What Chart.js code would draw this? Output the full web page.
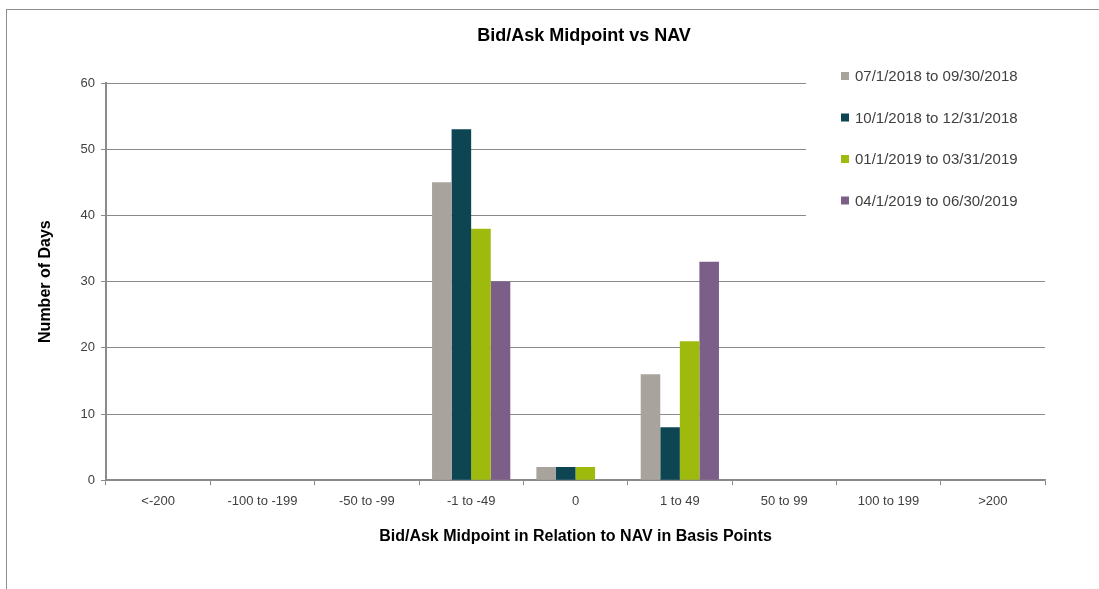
<!DOCTYPE html>
<html>
<head>
<meta charset="utf-8">
<script src="https://cdn.jsdelivr.net/npm/chart.js@4"></script>
<style>
  body { margin: 0; background: #fff; }
  #wrap { position: relative; width: 1099px; height: 589px; overflow: hidden; }
  #frame { position: absolute; left: 6px; top: 9px; width: 1200px; height: 700px; border: 1px solid #8c8c8c; pointer-events: none; }
</style>
</head>
<body>
<div id="wrap">
  <canvas id="navChart" width="1099" height="589"></canvas>
  <div id="frame"></div>
</div>
<script>
/* Bid/Ask midpoint vs NAV - grouped bar chart */

const TITLE = 'Bid/Ask Midpoint vs NAV';
const CATEGORIES = ['<-200', '-100 to -199', '-50 to -99', '-1 to -49', '0', '1 to 49', '50 to 99', '100 to 199', '>200'];
const SERIES_LABELS = ['07/1/2018 to 09/30/2018', '10/1/2018 to 12/31/2018', '01/1/2019 to 03/31/2019', '04/1/2019 to 06/30/2019'];
const Q3_2018 = [0, 0, 0, 45, 2, 16, 0, 0, 0];
const Q4_2018 = [0, 0, 0, 53, 2, 8, 0, 0, 0];
const Q1_2019 = [0, 0, 0, 38, 2, 21, 0, 0, 0];
const Q2_2019 = [0, 0, 0, 30, 0, 33, 0, 0, 0];
const Y_TICKS = [0, 10, 20, 30, 40, 50, 60];
const COLORS = ['#a8a39d', '#0d4553', '#9dba0d', '#7c5f88'];

const FONT = "'Liberation Sans', Arial, sans-serif";
const TEXT = '#404040';
const GRID = '#8a8a8a';

// title + legend drawn by hand so they sit where Excel put them
const overlay = {
  id: 'overlay',
  beforeDatasetsDraw(chart) {
    const { ctx, chartArea } = chart;
    ctx.save();
    ctx.fillStyle = '#fff';
    ctx.fillRect(806, chartArea.top - 2, chartArea.right - 806 + 2, 235 - chartArea.top);
    ctx.restore();
  },
  afterDraw(chart) {
    const ctx = chart.ctx;
    ctx.save();
    ctx.fillStyle = '#000';
    ctx.font = 'bold 18px ' + FONT;
    ctx.textAlign = 'center';
    ctx.textBaseline = 'middle';
    ctx.fillText(TITLE, 584, 36);

    ctx.font = '15px ' + FONT;
    ctx.textAlign = 'left';
    chart.data.datasets.forEach((ds, i) => {
      const y = 76 + i * 41.5;
      ctx.fillStyle = ds.backgroundColor;
      ctx.fillRect(841, y - 4, 8, 8);
      ctx.fillStyle = TEXT;
      ctx.fillText(ds.label, 855, y + 1);
    });
    ctx.restore();
  }
};

const seriesData = [Q3_2018, Q4_2018, Q1_2019, Q2_2019];

new Chart(document.getElementById('navChart'), {
  type: 'bar',
  data: {
    labels: CATEGORIES,
    datasets: seriesData.map((d, i) => ({
      label: SERIES_LABELS[i],
      data: d,
      backgroundColor: COLORS[i],
      borderWidth: 0,
      categoryPercentage: 0.75,
      barPercentage: 1
    }))
  },
  options: {
    responsive: false,
    animation: false,
    layout: { padding: { top: 83, right: 54, bottom: 43, left: 0 } },
    plugins: {
      legend: { display: false },
      title: { display: false },
      tooltip: { enabled: false }
    },
    scales: {
      x: {
        ticks: { color: TEXT, font: { family: FONT, size: 13 }, padding: 8, maxRotation: 0, autoSkip: false },
        grid: { drawOnChartArea: false, tickLength: 5, color: GRID, lineWidth: 1 },
        border: { color: GRID, width: 1.5 },
        title: {
          display: true,
          text: 'Bid/Ask Midpoint in Relation to NAV in Basis Points',
          color: '#000',
          font: { family: FONT, size: 16, weight: 'bold' },
          padding: { top: 10, bottom: 0 }
        }
      },
      y: {
        min: 0,
        max: 60,
        afterFit(scale) { scale.width = 106; },
        afterBuildTicks(scale) { scale.ticks = Y_TICKS.map(v => ({ value: v })); },
        ticks: { color: TEXT, font: { family: FONT, size: 13 }, padding: 6 },
        grid: { tickLength: 5, color: GRID, lineWidth: 1 },
        border: { color: GRID, width: 2 },
        title: {
          display: true,
          text: 'Number of Days',
          color: '#000',
          font: { family: FONT, size: 16, weight: 'bold' },
          padding: { top: 36, bottom: 0 }
        }
      }
    }
  },
  plugins: [overlay]
});
</script>
</body>
</html>
